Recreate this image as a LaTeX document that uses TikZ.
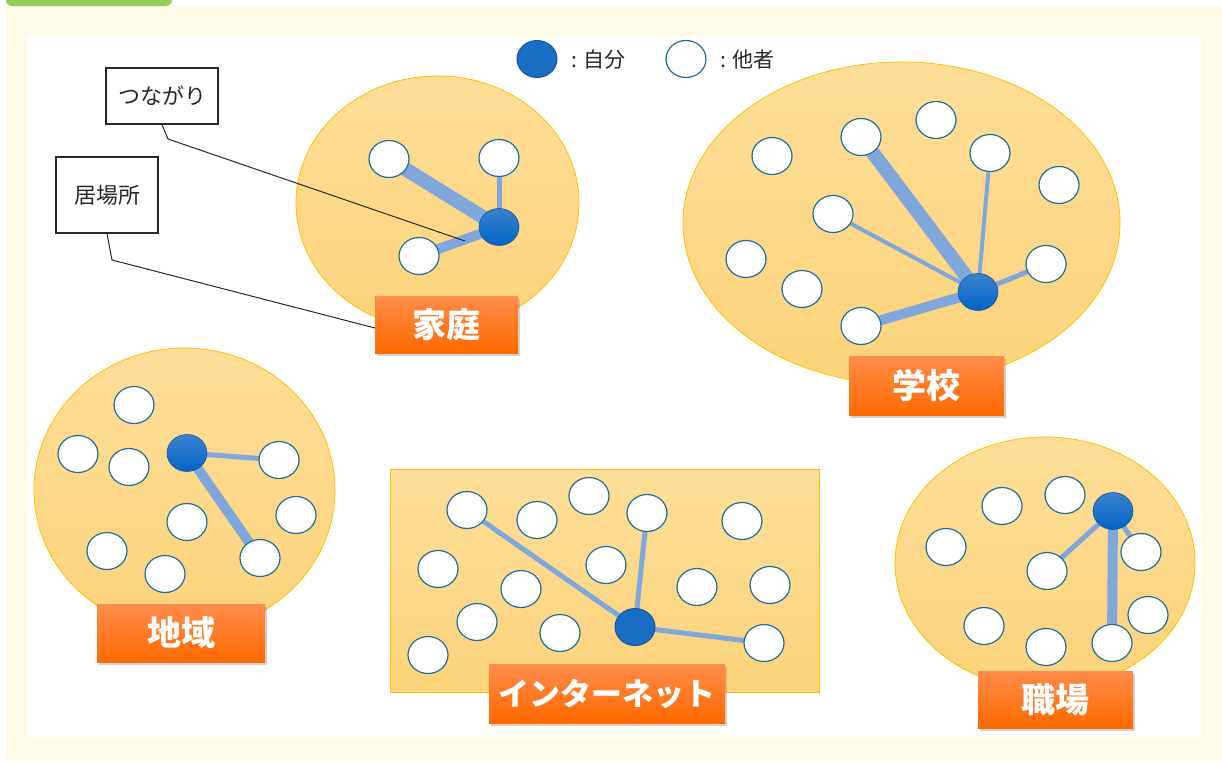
\documentclass[tikz,border=0pt]{standalone}
\usepackage{fontspec}
\newfontfamily\jp{Noto Sans CJK JP}
\usetikzlibrary{shapes.geometric,shadows}
\pgfdeclarelayer{bglayer}
\pgfdeclarelayer{edgelayer}
\pgfsetlayers{bglayer,edgelayer,main}
\definecolor{tabgreen}{RGB}{146,204,90}
\definecolor{paleyellow}{RGB}{254,252,232}
\definecolor{edgeblue}{RGB}{127,167,219}
\definecolor{selftop}{RGB}{60,130,205}
\definecolor{selfbot}{RGB}{0,100,200}
\definecolor{selfflatfill}{RGB}{26,109,196}
\definecolor{selfborder}{RGB}{25,85,155}
\definecolor{otherborder}{RGB}{31,110,150}
\definecolor{regtop}{RGB}{253,221,152}
\definecolor{regbot}{RGB}{251,211,122}
\definecolor{regborder}{RGB}{255,192,0}
\definecolor{labtop}{RGB}{255,140,75}
\definecolor{labbot}{RGB}{255,105,0}
\definecolor{txtgray}{RGB}{40,40,40}
\tikzset{
  region/.style={ellipse, draw=regborder, line width=0.8pt, top color=regtop, bottom color=regbot, inner sep=0pt},
  regionrect/.style={rectangle, draw=regborder, line width=0.8pt, top color=regtop, bottom color=regbot, inner sep=0pt},
  other/.style={ellipse, draw=otherborder, line width=1.2pt, fill=white, minimum width=40pt, minimum height=37pt, inner sep=0pt},
  self/.style={ellipse, draw=selfborder, line width=0.6pt, top color=selftop, bottom color=selfbot, minimum width=40pt, minimum height=37pt, inner sep=0pt},
  selfflat/.style={ellipse, draw=selfborder, line width=1pt, fill=selfflatfill, minimum width=40pt, minimum height=37pt, inner sep=0pt},
  edge/.style={draw=edgeblue},
  thin/.style={edge, line width=5pt},
  mid/.style={edge, line width=10pt},
  thick/.style={edge, line width=14pt},
  lab/.style={rectangle, top color=labtop, bottom color=labbot, text=white, inner sep=0pt,
    font=\jp\bfseries\fontsize{34}{34}\selectfont,
    drop shadow={opacity=0.35, shadow xshift=2pt, shadow yshift=-3pt}},
  callbox/.style={rectangle, draw=txtgray, line width=1.2pt, fill=white, text=txtgray, inner sep=0pt, font=\jp\fontsize{22}{22}\selectfont},
  callline/.style={draw=txtgray, line width=1pt},
  legtxt/.style={anchor=west, text=txtgray, inner sep=0pt, font=\jp\fontsize{21}{21}\selectfont}
}
\begin{document}
\begin{tikzpicture}[x=1pt,y=-1pt]
\useasboundingbox (0,0) rectangle (1222,763);
\begin{pgfonlayer}{bglayer}
% background
\fill[paleyellow] (6,6) rectangle (1222,763);
\fill[white] (28,37) rectangle (1201,737);
\fill[tabgreen, rounded corners=6pt] (6,-12) rectangle (172,6);
% regions
\node[region, minimum width=283pt, minimum height=254pt] (homeR) at (437.5,203) {};
\node[region, minimum width=437pt, minimum height=322pt] (schoolR) at (901.5,223) {};
\node[region, minimum width=301pt, minimum height=284pt] (areaR) at (184.5,490) {};
\node[region, minimum width=300pt, minimum height=252pt] (workR) at (1045,563) {};
\node[regionrect, minimum width=429pt, minimum height=223pt] (netR) at (604.5,580.5) {};
\end{pgfonlayer}

% legend
\node[selfflat] (legS) at (537,59) {};
\node[legtxt] (legSt) at (571,60) {: 自分};
\node[other] (legO) at (686,59) {};
\node[legtxt] (legOt) at (720,60) {: 他者};

% 家庭 nodes
\node[other] (h1) at (389,159) {};
\node[other] (h2) at (499,158) {};
\node[other] (h3) at (419,256) {};
\node[self] (hs) at (499,227) {};

% 学校 nodes
\node[other] (s1) at (772,156) {};
\node[other] (s2) at (861,137) {};
\node[other] (s3) at (936,120) {};
\node[other] (s4) at (990,153) {};
\node[other] (s5) at (1059,185) {};
\node[other] (s6) at (833,214) {};
\node[other] (s7) at (746,259) {};
\node[other] (s8) at (802,289) {};
\node[other] (s9) at (861,326) {};
\node[other] (s10) at (1046,264) {};
\node[self] (ss) at (978,292) {};

% 地域 nodes
\node[other] (a1) at (134,405) {};
\node[other] (a2) at (78,454) {};
\node[other] (a3) at (129,467) {};
\node[other] (a4) at (279,460) {};
\node[other] (a5) at (296,515) {};
\node[other] (a6) at (187,522) {};
\node[other] (a7) at (107,551) {};
\node[other] (a8) at (165,574) {};
\node[other] (a9) at (260,558) {};
\node[self] (as) at (187,453) {};

% 職場 nodes
\node[other] (w1) at (1002,506) {};
\node[other] (w2) at (1065,495) {};
\node[other] (w3) at (946,547) {};
\node[other] (w4) at (1047,571) {};
\node[other] (w5) at (1141,552) {};
\node[other] (w6) at (1148,615) {};
\node[other] (w7) at (984,626) {};
\node[other] (w8) at (1046,647) {};
\node[other] (w9) at (1112,643) {};
\node[self] (ws) at (1113,511) {};

% インターネット nodes
\node[other] (n1) at (467,510) {};
\node[other] (n2) at (537,520) {};
\node[other] (n3) at (589,496) {};
\node[other] (n4) at (647,513) {};
\node[other] (n5) at (742,521) {};
\node[other] (n6) at (438,569) {};
\node[other] (n7) at (521,589) {};
\node[other] (n8) at (606,565) {};
\node[other] (n9) at (697,587) {};
\node[other] (n10) at (770,585) {};
\node[other] (n11) at (477,622) {};
\node[other] (n12) at (560,633) {};
\node[other] (n13) at (428,655) {};
\node[other] (n14) at (764,643) {};
\node[selfflat] (ns) at (635,627) {};

% edges, behind the nodes
\begin{pgfonlayer}{edgelayer}
\draw[thick] (hs.center) -- (h1.center);
\draw[thin] (hs.center) -- (h2.center);
\draw[mid] (hs.center) -- (h3.center);

\draw[thick] (ss.center) -- (s2.center);
\draw[thin, line width=4pt] (ss.center) -- (s4.center);
\draw[thin, line width=4pt] (ss.center) -- (s6.center);
\draw[mid] (ss.center) -- (s9.center);
\draw[thin] (ss.center) -- (s10.center);

\draw[thin] (as.center) -- (a4.center);
\draw[mid] (as.center) -- (a9.center);

\draw[thin] (ws.center) -- (w4.center);
\draw[thin] (ws.center) -- (w5.center);
\draw[mid] (ws.center) -- (w9.center);

\draw[thin] (ns.center) -- (n1.center);
\draw[thin] (ns.center) -- (n4.center);
\draw[thin] (ns.center) -- (n14.center);
\end{pgfonlayer}

% labels
\node[lab, minimum width=143pt, minimum height=57pt] (homeL) at (446.5,324.5) {家庭};
\node[lab, minimum width=155pt, minimum height=59pt] (schoolL) at (926.5,385.5) {学校};
\node[lab, minimum width=168pt, minimum height=58pt] (areaL) at (181,633) {地域};
\node[lab, minimum width=155pt, minimum height=57pt] (workL) at (1055.5,699.5) {職場};
\node[lab, minimum width=236pt, minimum height=59pt, font=\jp\bfseries\fontsize{31}{31}\selectfont] (netL) at (607,693.5) {インターネット};

% callouts
\node[callbox, minimum width=112pt, minimum height=56pt] (tsunagari) at (162,96) {つながり};
\node[callbox, minimum width=102pt, minimum height=76pt] (ibasho) at (107,195) {居場所};
\coordinate (tBend) at (168,139);
\coordinate (tEnd) at (465,241);
\coordinate (iBend) at (112,260);
\coordinate (iEnd) at (375,328);
\draw[callline] (tsunagari.south) -- (tBend) -- (tEnd);
\draw[callline] (ibasho.south) -- (iBend) -- (iEnd);
\end{tikzpicture}
\end{document}
